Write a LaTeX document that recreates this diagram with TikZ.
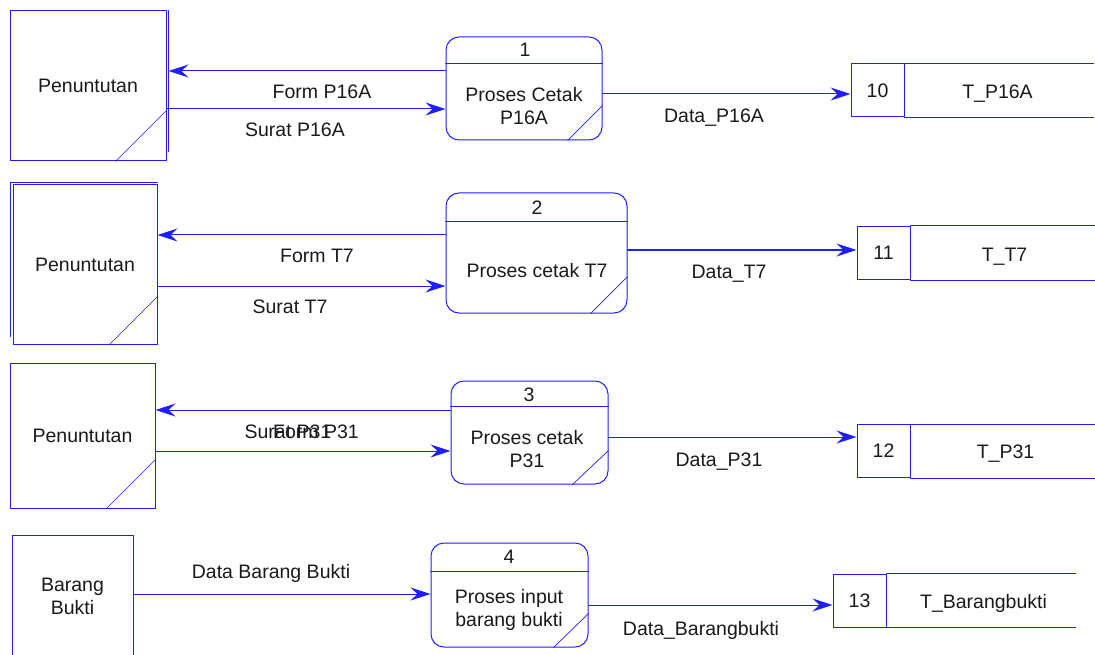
\documentclass[tikz,border=0pt]{standalone}
\usepackage{fontspec}
\setmainfont{Liberation Sans}
\usetikzlibrary{arrows.meta}
\usetikzlibrary{calc}

\definecolor{dfdblue}{RGB}{30,30,255}
\definecolor{dfdtext}{RGB}{25,25,25}
\newcommand{\dfdfont}{\fontsize{19.5}{23}\selectfont}

\tikzset{
  entity/.style={draw=dfdblue, line width=1pt, inner sep=0pt, text=dfdtext, font=\dfdfont, align=center},
  proses/.style={draw=dfdblue, line width=1pt, rounded corners=13pt, inner sep=0pt},
  storeid/.style={draw=dfdblue, line width=1pt, minimum width=53, minimum height=53, inner sep=0pt, text=dfdtext, font=\dfdfont},
  garis/.style={dfdblue, line width=1pt},
  sudut/.style={dfdblue, line width=0.7pt},
  flow/.style={dfdblue, line width=1pt, -{Stealth[length=20pt, width=13pt, inset=7pt]}},
  lbl/.style={text=dfdtext, font=\dfdfont, align=center, inner sep=0pt},
}

\begin{document}
\begin{tikzpicture}[x=1pt, y=-1pt, line cap=round]
    % DFD cetak berkas penuntutan dan input barang bukti
    \clip (0,0) rectangle (1095,655);

    % entitas luar
    \node[entity, minimum width=156, minimum height=150] (ent1) at (88,86) {Penuntutan};
    \node[entity, minimum width=144, minimum height=159] (ent2) at (85,264.5) {Penuntutan};
    \node[entity, minimum width=145, minimum height=145] (ent3) at (82.5,435.5) {Penuntutan};
    \node[entity, minimum width=121, minimum height=122] (ent4) at (72.5,596) {Barang\\Bukti};

    \draw[garis] ([xshift=2]ent1.north east) -- ([xshift=2, yshift=10]ent1.south east);
    \draw[garis] ([xshift=-2, yshift=8]ent2.south west) -- ([xshift=-2, yshift=2]ent2.north west) -- ([yshift=2]ent2.north east);

    \draw[sudut] ([xshift=-51]ent1.south east) -- ([yshift=51]ent1.south east);
    \draw[sudut] ([xshift=-48]ent2.south east) -- ([yshift=48]ent2.south east);
    \draw[sudut] ([xshift=-49]ent3.south east) -- ([yshift=49]ent3.south east);

    % proses
    \node[proses, minimum width=156, minimum height=103] (p1) at (524,88.5) {};
    \node[proses, minimum width=181, minimum height=120] (p2) at (536.5,253) {};
    \node[proses, minimum width=157, minimum height=103] (p3) at (529.5,432.5) {};
    \node[proses, minimum width=157, minimum height=104] (p4) at (509.5,595) {};

    \draw[garis] ([yshift=-27]p1.north west) -- ([yshift=-27]p1.north east);
    \draw[garis] ([yshift=-29]p2.north west) -- ([yshift=-29]p2.north east);
    \draw[garis] ([yshift=-26]p3.north west) -- ([yshift=-26]p3.north east);
    \draw[garis] ([yshift=-29]p4.north west) -- ([yshift=-29]p4.north east);

    \draw[sudut] ([xshift=-35]p1.south east) -- ([yshift=35]p1.south east);
    \draw[sudut] ([xshift=-37]p2.south east) -- ([yshift=37]p2.south east);
    \draw[sudut] ([xshift=-36]p3.south east) -- ([yshift=34]p3.south east);
    \draw[sudut] ([xshift=-35]p4.south east) -- ([yshift=34]p4.south east);

    \node[lbl] (p1n) at (525,50) {1};
    \node[lbl] (p2n) at (537,208) {2};
    \node[lbl] (p3n) at (529,395) {3};
    \node[lbl] (p4n) at (509,557) {4};
    \node[lbl] (p1t) at (524,106) {Proses Cetak\\P16A};
    \node[lbl] (p2t) at (537,271) {Proses cetak T7};
    \node[lbl] (p3t) at (527,449) {Proses cetak\\P31};
    \node[lbl] (p4t) at (509,610) {Proses input\\barang bukti};

    % data store
    \node[storeid] (s1) at (877.5,90.5) {10};
    \node[storeid] (s2) at (883.5,253) {11};
    \node[storeid] (s3) at (883.5,451) {12};
    \node[storeid] (s4) at (859.5,600.5) {13};
    \foreach \s in {s1, s2, s3, s4}{
        \draw[garis] (\s.north east) -- ++(189,0);
        \draw[garis] (\s.south east) -- ++(189,0);
    };
    \node[lbl] (s1t) at ($(s1.east)+(93,3)$) {T\_P16A};
    \node[lbl] (s2t) at ($(s2.east)+(94,4)$) {T\_T7};
    \node[lbl] (s3t) at ($(s3.east)+(95,3)$) {T\_P31};
    \node[lbl] (s4t) at ($(s4.east)+(97,3)$) {T\_Barangbukti};

    % aliran data
    \coordinate (f1) at ([yshift=17.5]p1.west);
    \coordinate (g1) at ([yshift=-23]ent1.east);
    \coordinate (d1) at ([yshift=-5.5]p1.east);
    \draw[flow] (f1) -- ([xshift=2]f1 -| ent1.east);
    \draw[flow] (g1) -- (g1 -| p1.west);
    \draw[flow] (d1) -- (d1 -| s1.west);
    \node[lbl] at (322,92) {Form P16A};
    \node[lbl] at (295,130) {Surat P16A};
    \node[lbl] at (714,118) {Data\_P16A};

    \coordinate (f2) at ([yshift=18]p2.west);
    \coordinate (g2) at ([yshift=-21.5]ent2.east);
    \coordinate (d2) at ([yshift=3]p2.east);
    \draw[flow] (f2) -- (f2 -| ent2.east);
    \draw[flow] (g2) -- (g2 -| p2.west);
    \draw[flow] (d2) -- (d2 -| s2.west);
    \node[lbl] at (317,256) {Form T7};
    \node[lbl] at (290,307) {Surat T7};
    \node[lbl] at (729,274) {Data\_T7};

    \coordinate (f3) at ([yshift=22.5]p3.west);
    \coordinate (g3) at ([yshift=-15.5]ent3.east);
    \coordinate (d3) at ([yshift=-4.5]p3.east);
    \draw[flow] (f3) -- (f3 -| ent3.east);
    \draw[flow] (g3) -- (g3 -| p3.west);
    \draw[flow] (d3) -- (d3 -| s3.west);
    \node[lbl] at (288,432) {Surat P31};
    \node[lbl] at (316,432) {Form P31};
    \node[lbl] at (719,462) {Data\_P31};

    \coordinate (g4) at ([yshift=2]ent4.east);
    \coordinate (d4) at ([yshift=-10]p4.east);
    \draw[flow] (g4) -- (g4 -| p4.west);
    \draw[flow] (d4) -- (d4 -| s4.west);
    \node[lbl] at (271,573) {Data Barang Bukti};
    \node[lbl] at (701,630) {Data\_Barangbukti};
\end{tikzpicture}
\end{document}
